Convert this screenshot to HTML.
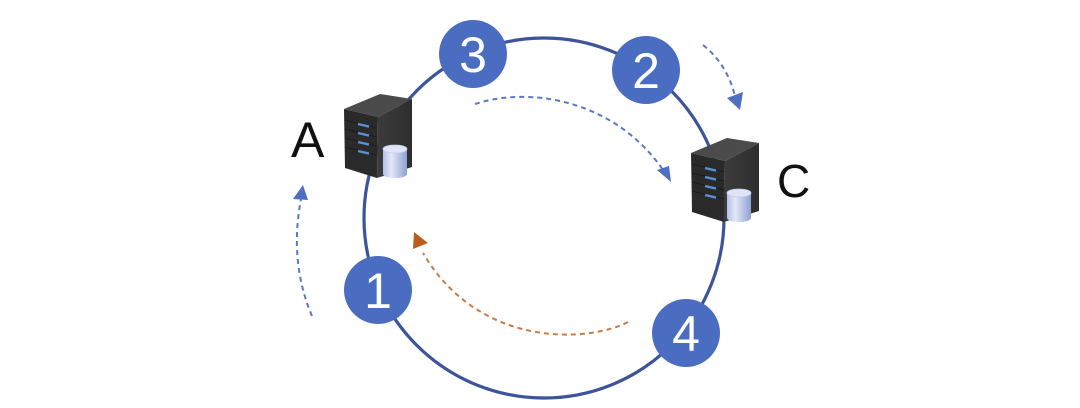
<!DOCTYPE html>
<html>
<head>
<meta charset="utf-8">
<style>
  html, body { margin: 0; padding: 0; background: #ffffff; }
  body { width: 1080px; height: 408px; overflow: hidden; }
  svg { display: block; }
  .num { font-family: "Liberation Sans", sans-serif; font-size: 50px; fill: #ffffff; text-anchor: middle; }
  .lbl { font-family: "Liberation Sans", sans-serif; fill: #111111; }
</style>
</head>
<body>
<svg width="1080" height="408" viewBox="0 0 1080 408" xmlns="http://www.w3.org/2000/svg">
  <defs>
    <linearGradient id="cyl" x1="0" y1="0" x2="1" y2="0">
      <stop offset="0" stop-color="#b3c0e6"/>
      <stop offset="0.35" stop-color="#e4e9f8"/>
      <stop offset="1" stop-color="#8e9fd3"/>
    </linearGradient>
    <linearGradient id="rface" x1="0" y1="0" x2="1" y2="0">
      <stop offset="0" stop-color="#3c3c3c"/>
      <stop offset="1" stop-color="#2e2e2e"/>
    </linearGradient>
  </defs>

  <!-- ring -->
  <circle cx="544" cy="218" r="180" fill="none" stroke="#3c5499" stroke-width="3.2"/>

  <!-- dashed arrows -->
  <g fill="none" stroke-width="2" stroke-dasharray="5 4">
    <path d="M312,316 Q289,262 301,199" stroke="#5b78c6"/>
    <path d="M703,45 Q727,64 735,96" stroke="#5b78c6"/>
    <path d="M475,104 C530,86 615,100 663,170" stroke="#5b78c6"/>
    <path d="M628,322 C590,342 480,350 423,253" stroke="#c77c48"/>
  </g>
  <polygon points="303,185 293,199 308,200" fill="#4f6fc4"/>
  <polygon points="740,110 727,98 743,92" fill="#4f6fc4"/>
  <polygon points="671,182 657,170 669,166" fill="#4f6fc4"/>
  <polygon points="414,232 428,243 413,249" fill="#b95e1e"/>

  <!-- server A -->
  <g>
    <polygon points="344,109 380,94 412,99 378,117" fill="#4b4b4b"/>
    <polygon points="344,109 378,117 377,178 345,168" fill="#2a2a2a"/>
    <polygon points="378,117 412,99 412,167 377,178" fill="url(#rface)"/>
    <g stroke="#1c1c1c" stroke-width="1">
      <line x1="345" y1="120" x2="377" y2="128"/>
      <line x1="345" y1="129" x2="377" y2="137"/>
      <line x1="345" y1="138" x2="377" y2="146"/>
      <line x1="345" y1="147" x2="377" y2="155"/>
    </g>
    <g stroke="#5b8fd6" stroke-width="2.4">
      <line x1="358" y1="124" x2="369" y2="126.6"/>
      <line x1="358" y1="133" x2="369" y2="135.6"/>
      <line x1="358" y1="142" x2="369" y2="144.6"/>
      <line x1="358" y1="151" x2="369" y2="153.6"/>
    </g>
    <rect x="383" y="149" width="24" height="25" fill="url(#cyl)"/>
    <ellipse cx="395" cy="174" rx="12" ry="4" fill="url(#cyl)"/>
    <ellipse cx="395" cy="149" rx="12" ry="4" fill="#dfe5f7" stroke="#c2cbea" stroke-width="0.8"/>
  </g>

  <!-- server C -->
  <g transform="translate(347,44)">
    <polygon points="344,109 380,94 412,99 378,117" fill="#4b4b4b"/>
    <polygon points="344,109 378,117 377,178 345,168" fill="#2a2a2a"/>
    <polygon points="378,117 412,99 412,167 377,178" fill="url(#rface)"/>
    <g stroke="#1c1c1c" stroke-width="1">
      <line x1="345" y1="120" x2="377" y2="128"/>
      <line x1="345" y1="129" x2="377" y2="137"/>
      <line x1="345" y1="138" x2="377" y2="146"/>
      <line x1="345" y1="147" x2="377" y2="155"/>
    </g>
    <g stroke="#5b8fd6" stroke-width="2.4">
      <line x1="358" y1="124" x2="369" y2="126.6"/>
      <line x1="358" y1="133" x2="369" y2="135.6"/>
      <line x1="358" y1="142" x2="369" y2="144.6"/>
      <line x1="358" y1="151" x2="369" y2="153.6"/>
    </g>
    <rect x="380" y="149" width="24" height="25" fill="url(#cyl)"/>
    <ellipse cx="392" cy="174" rx="12" ry="4" fill="url(#cyl)"/>
    <ellipse cx="392" cy="149" rx="12" ry="4" fill="#dfe5f7" stroke="#c2cbea" stroke-width="0.8"/>
  </g>

  <!-- labels -->
  <text class="lbl" x="291" y="157" font-size="50">A</text>
  <text class="lbl" x="777" y="197" font-size="46">C</text>

  <!-- numbered circles -->
  <g fill="#4a6dc2">
    <circle cx="473" cy="54" r="34"/>
    <circle cx="646" cy="70" r="34"/>
    <circle cx="378" cy="290" r="34"/>
    <circle cx="686" cy="333" r="34"/>
  </g>
  <text class="num" x="473" y="72">3</text>
  <text class="num" x="646" y="88">2</text>
  <text class="num" x="378" y="308">1</text>
  <text class="num" x="686" y="351">4</text>
</svg>
</body>
</html>
